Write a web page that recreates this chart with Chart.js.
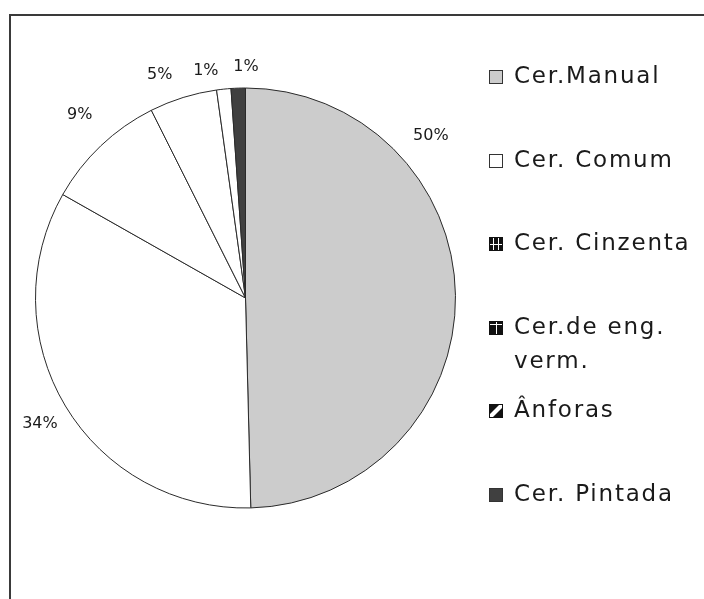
<!DOCTYPE html>
<html>
<head>
<meta charset="utf-8">
<script src="https://cdn.jsdelivr.net/npm/chart.js@4/dist/chart.umd.min.js"></script>
<style>
  html, body { margin: 0; padding: 0; background: #fff; overflow: hidden; }
  #wrap { position: relative; width: 704px; height: 599px; }
  #frame { position: absolute; left: 9px; top: 14px; width: 800px; height: 700px;
           border-left: 2px solid #3a3a3a; border-top: 2px solid #3a3a3a; }
  canvas { position: absolute; left: 0; top: 0; }
</style>
</head>
<body>
<div id="wrap">
  <div id="frame"></div>
  <canvas id="pie" width="704" height="599"></canvas>
</div>
<script>
// data (percent of finds)
const categories = ['Cer.Manual', 'Cer. Comum', 'Cer. Cinzenta', ['Cer.de eng.', 'verm.'], 'Ânforas', 'Cer. Pintada'];
const shares = [49.6, 33.6, 9.4, 5.2, 1.1, 1.1];
const sliceColors = ['#cccccc', '#ffffff', '#ffffff', '#ffffff', '#ffffff', '#404040'];
const swatchStyles = ['fill', 'fill', 'grid', 'bars', 'diagonal', 'fill'];

const FONT = '"DejaVu Sans", sans-serif';

// percentage labels sit outside the pie, pushed round a bit like the original
const labelNudge = [-40.4, -0.5, 1.4, -3.75, -3.95, 2.1]; // degrees
const labelGap = [36, 31, 37, 29, 21, 21];

const pctLabels = {
  id: 'pctLabels',
  afterDatasetsDraw(chart) {
    const ctx = chart.ctx;
    const meta = chart.getDatasetMeta(0);
    const values = chart.data.datasets[0].data;
    const total = values.reduce((a, b) => a + b, 0);
    ctx.save();
    ctx.font = '16px ' + FONT;
    ctx.fillStyle = '#1a1a1a';
    ctx.textAlign = 'center';
    ctx.textBaseline = 'middle';
    meta.data.forEach((arc, i) => {
      const { x, y, startAngle, endAngle, outerRadius } =
        arc.getProps(['x', 'y', 'startAngle', 'endAngle', 'outerRadius'], true);
      const a = (startAngle + endAngle) / 2 + labelNudge[i] * Math.PI / 180;
      const r = outerRadius + labelGap[i];
      const txt = Math.round(values[i] / total * 100) + '%';
      ctx.fillText(txt, x + Math.cos(a) * r, y + Math.sin(a) * r);
    });
    ctx.restore();
  }
};

// right hand legend, drawn by hand so the two line entry keeps even spacing
const sideLegend = {
  id: 'sideLegend',
  afterDraw(chart) {
    const ctx = chart.ctx;
    const boxX = 489, box = 14, textX = 514, firstY = 77, step = 83.6, lineGap = 34;
    ctx.save();
    ctx.font = '23px ' + FONT;
    ctx.letterSpacing = '1.8px';
    ctx.textBaseline = 'middle';
    ctx.textAlign = 'left';
    chart.data.labels.forEach((label, i) => {
      const cy = firstY + i * step;
      const bx = boxX, by = Math.round(cy - box / 2);
      const style = swatchStyles[i];
      if (style === 'fill') {
        ctx.fillStyle = sliceColors[i];
        ctx.fillRect(bx, by, box, box);
        ctx.strokeStyle = '#333';
        ctx.lineWidth = 1;
        ctx.strokeRect(bx + 0.5, by + 0.5, box - 1, box - 1);
      } else {
        ctx.fillStyle = '#111';
        ctx.fillRect(bx, by, box, box);
        ctx.fillStyle = '#fff';
        if (style === 'grid') {
          ctx.fillRect(bx + 4, by + 1, 1, box - 2);
          ctx.fillRect(bx + 9, by + 1, 1, box - 2);
          ctx.fillRect(bx + 1, by + 7, box - 2, 1);
        } else if (style === 'bars') {
          ctx.fillRect(bx + 7, by + 1, 1, box - 2);
          ctx.fillRect(bx + 1, by + 3, box - 2, 1);
        } else if (style === 'diagonal') {
          ctx.beginPath();
          ctx.moveTo(bx + 1, by + box - 4);
          ctx.lineTo(bx + box - 4, by + 1);
          ctx.lineTo(bx + box - 1, by + 1);
          ctx.lineTo(bx + box - 1, by + 4);
          ctx.lineTo(bx + 4, by + box - 1);
          ctx.lineTo(bx + 1, by + box - 1);
          ctx.closePath();
          ctx.fill();
        }
      }
      ctx.fillStyle = '#1a1a1a';
      const lines = Array.isArray(label) ? label : [label];
      lines.forEach((ln, k) => ctx.fillText(ln, textX, cy + k * lineGap));
    });
    ctx.restore();
  }
};

new Chart(document.getElementById('pie'), {
  type: 'pie',
  data: {
    labels: categories,
    datasets: [{
      data: shares,
      backgroundColor: sliceColors,
      borderColor: '#2a2a2a',
      borderWidth: 1
    }]
  },
  options: {
    responsive: false,
    animation: false,
    layout: { padding: { left: 35, right: 248, top: 87, bottom: 90 } },
    plugins: {
      legend: { display: false },
      tooltip: { enabled: false }
    }
  },
  plugins: [pctLabels, sideLegend]
});
</script>
</body>
</html>
